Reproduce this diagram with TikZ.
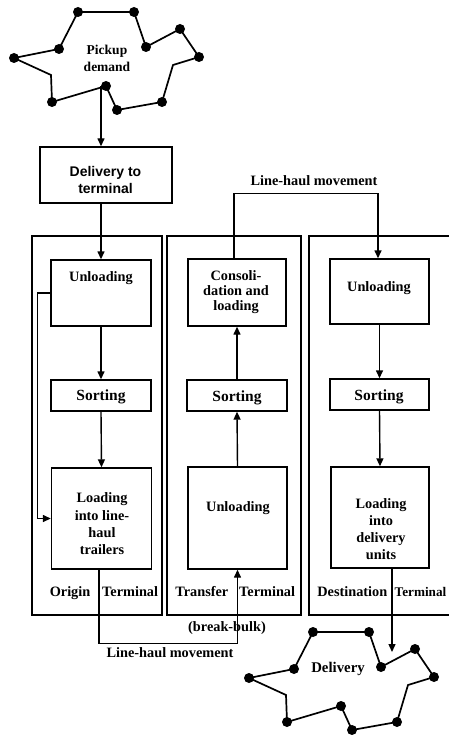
\documentclass[tikz,border=0pt]{standalone}
\usepackage{fontspec}
\setmainfont{Liberation Serif}
\newfontfamily\headsans{Liberation Sans}
\usetikzlibrary{arrows.meta}

% closed pickup/delivery route: #1 = shift, #2 = name prefix
\newcommand\routeloop[2]{%
  \begin{scope}[shift={#1}]
    \path (78,12) coordinate (#2-1)  (134,12) coordinate (#2-2)
          (146,47) coordinate (#2-3) (180,29) coordinate (#2-4)
          (199,57) coordinate (#2-5) (173,65) coordinate (#2-6)
          (162,102) coordinate (#2-7) (117,110) coordinate (#2-8)
          (106,86) coordinate (#2-9) (52,102) coordinate (#2-10)
          (51,75) coordinate (#2-11) (14,58) coordinate (#2-12)
          (59,49) coordinate (#2-13);
    \draw[route] (#2-1) -- (#2-2) -- (#2-3) -- (#2-4) -- (#2-5) -- (#2-6)
      -- (#2-7) -- (#2-8) -- (#2-9) -- (#2-10) -- (#2-11) -- (#2-12)
      -- (#2-13) -- cycle;
    \foreach \i in {1,2,3,4,5,7,8,9,10,12,13}
      \fill (#2-\i) circle (5pt);
  \end{scope}}

\begin{document}
\begin{tikzpicture}[x=1pt,y=-1pt,
  box/.style={draw, line width=1.4pt, inner sep=0pt},
  terminal/.style={draw, line width=1.7pt, inner sep=0pt},
  txt/.style={font=\bfseries\fontsize{14.3}{17}\selectfont, align=center, inner sep=0pt},
  sorttxt/.style={font=\bfseries\fontsize{15.5}{17}\selectfont, inner sep=0pt},
  flow/.style={line width=1.4pt, -{Triangle[length=8pt,width=7pt]}},
  route/.style={line width=1.7pt, line join=miter}]
\useasboundingbox (0,0) rectangle (448,735);

% terminals
\node[terminal, minimum width=130, minimum height=379] (origin) at (97,425.5) {};
\node[terminal, minimum width=134, minimum height=379] (transfer) at (234,425.5) {};
\node[terminal, minimum width=151, minimum height=379] (dest) at (384.5,425.5) {};

% pickup and delivery routes
\routeloop{(0,0)}{p}
\routeloop{(235,620)}{d}
\node[txt, font=\bfseries\fontsize{13.5}{17}\selectfont] (pickuptxt) at (107,58.5) {Pickup\\demand};
\node[txt, font=\bfseries\fontsize{14.8}{17}\selectfont] (deliverytxt) at (338,669) {Delivery};

% delivery to terminal
\node[box, minimum width=132, minimum height=56] (dt) at (106,175) {};
\node[txt, font=\headsans\bfseries\fontsize{14}{17}\selectfont] (dttxt) at (105.5,179.5) {Delivery to\\terminal};

% origin terminal
\node[box, minimum width=100, minimum height=66] (ou) at (101,293) {};
\node[txt] (outxt) at (101,278) {Unloading};
\node[box, minimum width=100, minimum height=31] (os) at (101,395.5) {};
\node[sorttxt] (ostxt) at (101,397) {Sorting};
\node[box, minimum width=100, minimum height=101] (ol) at (101.5,518.5) {};
\node[txt, font=\bfseries\fontsize{14.3}{17.3}\selectfont] (oltxt) at (102,524) {Loading\\into line-\\haul\\trailers};

% transfer terminal
\node[box, minimum width=98, minimum height=67] (tc) at (237,292.5) {};
\node[txt, font=\bfseries\fontsize{14.3}{15}\selectfont] (tctxt) at (236,292) {Consoli-\\dation and\\loading};
\node[box, minimum width=100, minimum height=31] (ts) at (237,395.5) {};
\node[sorttxt] (tstxt) at (237,398) {Sorting};
\node[box, minimum width=99, minimum height=102] (tu) at (237.5,518) {};
\node[txt] (tutxt) at (238,508) {Unloading};

% destination terminal
\node[box, minimum width=99, minimum height=65] (du) at (379.5,291.5) {};
\node[txt] (dutxt) at (379,288) {Unloading};
\node[box, minimum width=99, minimum height=31] (ds) at (379.5,394.5) {};
\node[sorttxt] (dstxt) at (379,397) {Sorting};
\node[box, minimum width=98, minimum height=101] (dl) at (380,517.5) {};
\node[txt] (dltxt) at (381,529) {Loading\\into\\delivery\\units};

% terminal captions
\node[txt, anchor=base east] (orgA) at (90.5,596) {Origin};
\node[txt, anchor=base west] (orgB) at (102,596) {Terminal};
\node[txt, anchor=base east] (trA) at (228.5,596) {Transfer};
\node[txt, anchor=base west] (trB) at (239,596) {Terminal};
\node[txt, anchor=base east] (dsA) at (387.5,596) {Destination};
\node[txt, anchor=base west, font=\bfseries\fontsize{13.2}{17}\selectfont] (dsB) at (394.5,596) {Terminal};

% movement labels
\node[txt, anchor=base] (bb) at (227,631) {(break-bulk)};
\node[txt, anchor=base] (lhlow) at (170,657) {Line-haul movement};
\node[txt, anchor=base] (lhtop) at (314,186) {Line-haul movement};

% flows
\draw[flow] (ou.north |- p-9) -- (ou.north |- dt.north);
\draw[flow] (ou.north |- dt.south) -- (ou.north);
\draw[flow] (ou.south) -- (os.north);
\draw[flow] (os.south) -- (ol.north);
\draw[flow] (ou.west) -- ++(-13,0) |- (ol.west);
\draw[flow] ([xshift=-2.5pt]ol.south) -- ++(0,74) -| (tu.south);
\draw[flow] (tu.north) -- (ts.south);
\draw[flow] (ts.north) -- (tc.south);
\draw[flow] ([xshift=-3pt]tc.north) -- ++(0,-65) -| ([xshift=-1.5pt]du.north);
\draw[flow] (du.south) -- (ds.north);
\draw[flow] (ds.south) -- (dl.north);
\coordinate (droptip) at (392,652);
\draw[flow] (dl.south -| droptip) -- (droptip);
\end{tikzpicture}
\end{document}
